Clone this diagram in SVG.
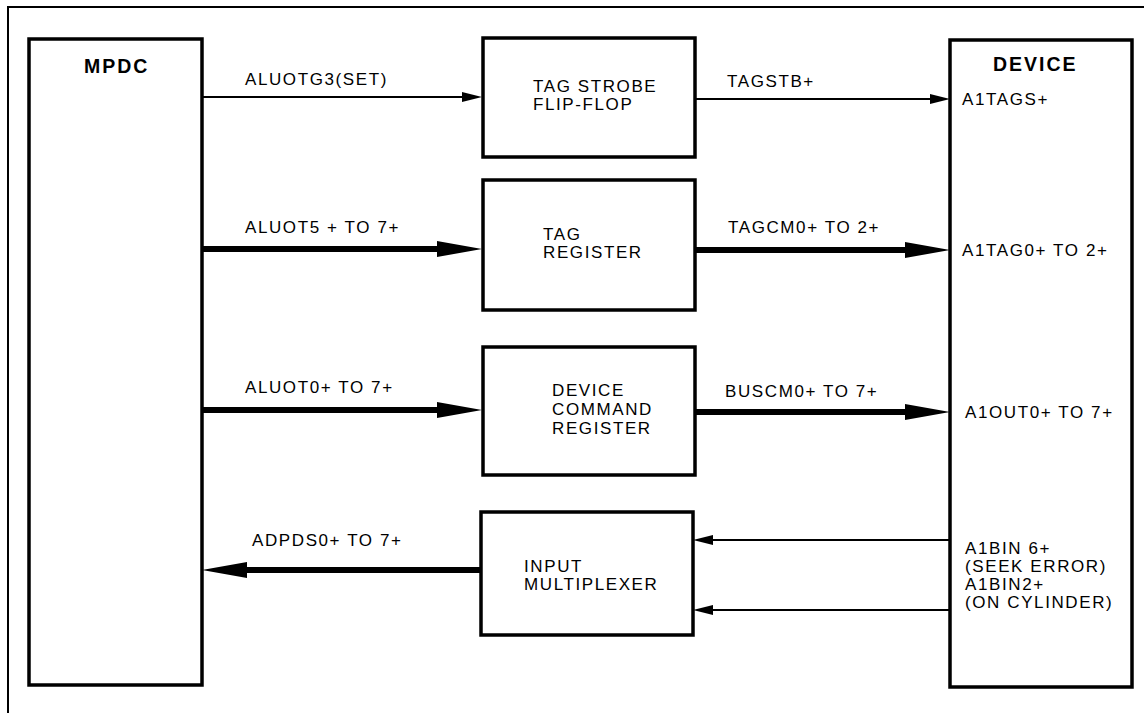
<svg xmlns="http://www.w3.org/2000/svg" width="1144" height="713" viewBox="0 0 1144 713">
<style>
.box{fill:#fff;stroke:#000;stroke-width:3.5}
.t{font-family:"Liberation Sans",Arial,sans-serif;font-size:17px;letter-spacing:1.6px;fill:#000}
.b{font-family:"Liberation Sans",Arial,sans-serif;font-size:19.5px;font-weight:bold;letter-spacing:2px;fill:#000}
.thin{stroke:#000;stroke-width:2.2;fill:none}
.thick{stroke:#000;stroke-width:6;fill:none}
</style>
<defs>
<marker id="ah" markerUnits="userSpaceOnUse" viewBox="0 0 20 10" refX="0" refY="5" markerWidth="20" markerHeight="10" orient="auto"><path d="M0,0 L20,5 L0,10 z" fill="#000"/></marker>
<marker id="AH" markerUnits="userSpaceOnUse" viewBox="0 0 45 16" refX="0" refY="8" markerWidth="45" markerHeight="16" orient="auto"><path d="M0,0 L45,8 L0,16 z" fill="#000"/></marker>
</defs>
<rect width="1144" height="713" fill="#fff"/>
<path d="M8,713 V7 H1144" fill="none" stroke="#000" stroke-width="2"/>
<g id="mpdc"><rect class="box" x="29" y="39" width="173" height="646"/><text class="b" x="84" y="73">MPDC</text></g>
<g id="device"><rect class="box" x="950" y="40" width="182" height="647"/><text class="b" x="993" y="71">DEVICE</text>
<text class="t" x="962" y="105">A1TAGS+</text>
<text class="t" x="962" y="256">A1TAG0+ TO 2+</text>
<text class="t" x="965" y="418">A1OUT0+ TO 7+</text>
<text class="t" x="965" y="554">A1BIN 6+</text>
<text class="t" x="965" y="572">(SEEK ERROR)</text>
<text class="t" x="965" y="590">A1BIN2+</text>
<text class="t" x="965" y="608">(ON CYLINDER)</text></g>
<g id="tagstrobe"><rect class="box" x="483" y="38" width="212" height="119"/><text class="t" x="533" y="92">TAG STROBE</text><text class="t" x="533" y="110">FLIP-FLOP</text></g>
<g id="tagreg"><rect class="box" x="483" y="180" width="212" height="130"/><text class="t" x="543" y="240">TAG</text><text class="t" x="543" y="258">REGISTER</text></g>
<g id="devcmd"><rect class="box" x="483" y="347" width="212" height="128"/><text class="t" x="552" y="396">DEVICE</text><text class="t" x="552" y="415">COMMAND</text><text class="t" x="552" y="434">REGISTER</text></g>
<g id="inmux"><rect class="box" x="481" y="512" width="212" height="123"/><text class="t" x="524" y="572">INPUT</text><text class="t" x="524" y="590">MULTIPLEXER</text></g>
<g id="connectors">
<path class="thin" d="M202,97 H462" marker-end="url(#ah)"/>
<text class="t" x="245" y="85">ALUOTG3(SET)</text>
<path class="thin" d="M695,99 H930" marker-end="url(#ah)"/>
<text class="t" x="727" y="87">TAGSTB+</text>
<path class="thick" d="M202,249 H437" marker-end="url(#AH)"/>
<text class="t" x="245" y="233">ALUOT5 + TO 7+</text>
<path class="thick" d="M695,250 H905" marker-end="url(#AH)"/>
<text class="t" x="728" y="233">TAGCM0+ TO 2+</text>
<path class="thick" d="M202,410 H437" marker-end="url(#AH)"/>
<text class="t" x="245" y="393">ALUOT0+ TO 7+</text>
<path class="thick" d="M695,412 H905" marker-end="url(#AH)"/>
<text class="t" x="725" y="397">BUSCM0+ TO 7+</text>
<path class="thick" d="M481,570 H247" marker-end="url(#AH)"/>
<text class="t" x="252" y="546">ADPDS0+ TO 7+</text>
<path class="thin" d="M950,540 H713" marker-end="url(#ah)"/>
<path class="thin" d="M950,610 H713" marker-end="url(#ah)"/>
</g>
</svg>
